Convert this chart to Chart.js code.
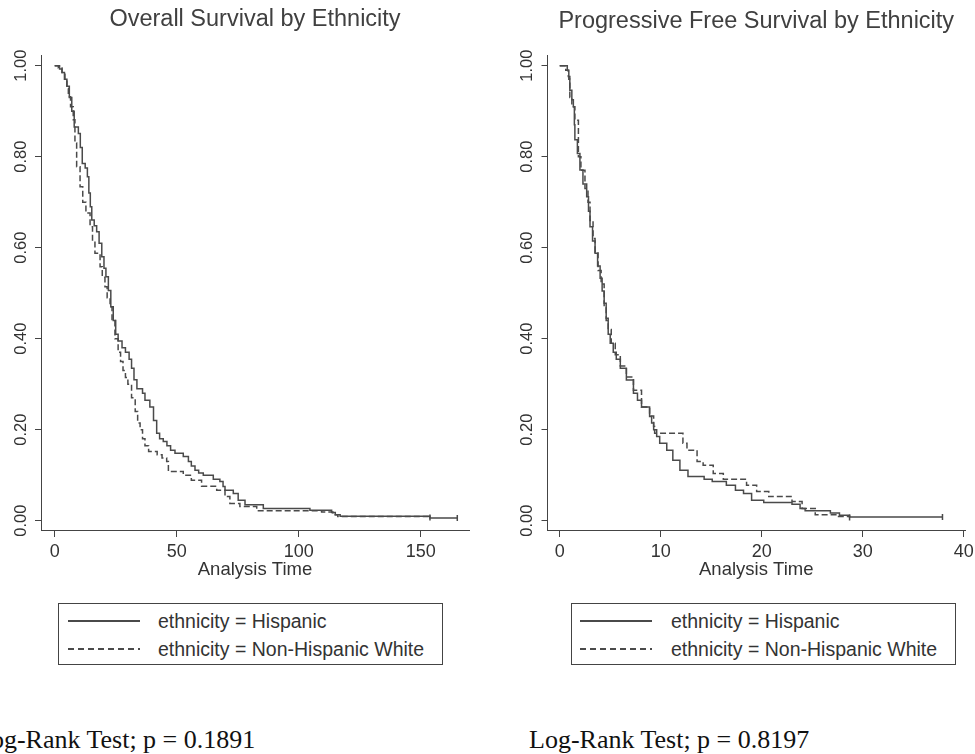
<!DOCTYPE html>
<html>
<head>
<meta charset="utf-8">
<script src="https://cdn.jsdelivr.net/npm/chart.js@4.4.1/dist/chart.umd.min.js"></script>
<style>
    html, body { margin: 0; padding: 0; overflow: hidden; background: #fff; }
    #page { position: relative; width: 975px; height: 754px; overflow: hidden; }
    canvas { position: absolute; top: 0; }
    .legend {
        position: absolute; top: 603px; width: 383px; height: 60px;
        border: 1px solid #444; font-family: "Liberation Sans", Arial, sans-serif;
        font-size: 19.5px; color: #333;
    }
    .legend .row { position: absolute; left: 0; right: 0; height: 24px; }
    .legend .sample { position: absolute; width: 72px; height: 1.5px; top: 11px; }
    .legend .solid { background: #4a4a4a; }
    .legend .dashed { background: repeating-linear-gradient(to right, #4a4a4a 0 6px, transparent 6px 10px); }
    .legend .text { position: absolute; left: 99px; top: 0; line-height: 24px; white-space: nowrap; }
    .logrank {
        position: absolute; top: 727px; font-family: "Liberation Serif", "Times New Roman", serif;
        font-size: 26px; line-height: 1; color: #111; white-space: nowrap;
    }
</style>
</head>
<body>
<div id="page">
    <canvas id="osChart" width="505" height="590" style="left:0"></canvas>
    <canvas id="pfsChart" width="512" height="590" style="left:506px"></canvas>

    <div class="legend" style="left:58px">
        <div class="row" style="top:5px"><div class="sample solid" style="left:9px"></div><div class="text" id="osLeg1"></div></div>
        <div class="row" style="top:33px"><div class="sample dashed" style="left:9px"></div><div class="text" id="osLeg2"></div></div>
    </div>
    <div class="legend" style="left:571px">
        <div class="row" style="top:5px"><div class="sample solid" style="left:8px"></div><div class="text" id="pfsLeg1"></div></div>
        <div class="row" style="top:33px"><div class="sample dashed" style="left:8px"></div><div class="text" id="pfsLeg2"></div></div>
    </div>

    <div class="logrank" style="left:-25px" id="osTest"></div>
    <div class="logrank" style="left:529px" id="pfsTest"></div>
</div>

<script>
// --- data (time, survival after the step) ---
const groupLabels = ['ethnicity = Hispanic', 'ethnicity = Non-Hispanic White'];
const yTicks = [0, 0.2, 0.4, 0.6, 0.8, 1.0];
const osXTicks = [0, 50, 100, 150];
const pfsXTicks = [0, 10, 20, 30, 40];
const osTitle = 'Overall Survival by Ethnicity';
const pfsTitle = 'Progressive Free Survival by Ethnicity';
const xTitle = 'Analysis Time';
const osPValue = '0.1891';
const pfsPValue = '0.8197';

const osHispTime = [0, 2, 3, 4, 5, 6, 7, 8, 9.7, 10.5, 11.3, 12.5, 13.4, 14, 14.6, 15.2, 16.2, 17.2, 18.2, 19.3,
    20.2, 21, 22, 23, 24, 25, 26, 27.6, 29, 30.5, 31.5, 32.5, 33.7, 36, 37, 39, 40.5, 41.8, 43, 44.5,
    46, 47.5, 49.3, 52.7, 54.8, 56, 57.5, 59, 60.9, 65, 67.7, 69, 69.8, 73.2, 75.2, 78, 85.5, 104.6,
    113.5, 115, 117, 153.8, 165];
const osHispSurv = [1, 0.993, 0.985, 0.97, 0.955, 0.93, 0.9, 0.865, 0.851, 0.82, 0.785, 0.775, 0.756, 0.72, 0.69, 0.661, 0.648, 0.635, 0.61, 0.58,
    0.555, 0.536, 0.506, 0.47, 0.44, 0.41, 0.395, 0.38, 0.37, 0.355, 0.335, 0.31, 0.29, 0.28, 0.265, 0.25, 0.22, 0.192, 0.18, 0.174,
    0.165, 0.155, 0.148, 0.141, 0.13, 0.12, 0.111, 0.105, 0.1, 0.091, 0.086, 0.075, 0.067, 0.06, 0.045, 0.035, 0.027, 0.023,
    0.018, 0.013, 0.01, 0.006, 0.006];

const osWhiteTime = [0, 1.5, 3, 4.2, 5, 5.6, 6.5, 7.6, 8.3, 9, 10.4, 11.5, 12.8, 14.5, 15.5, 16.5, 18.6, 19.5, 20.6, 21.5,
    22.7, 23.5, 24.7, 26, 27, 28, 29, 30, 31.5, 33, 34, 35, 36, 37, 38.5, 42, 44, 45.9, 46.6, 52.7,
    56, 60.2, 66.4, 69.8, 71.8, 75.9, 82.8, 109.4, 114, 116, 153.8];
const osWhiteSurv = [1, 0.995, 0.985, 0.969, 0.95, 0.932, 0.91, 0.881, 0.83, 0.778, 0.734, 0.7, 0.676, 0.646, 0.615, 0.588, 0.558, 0.535, 0.514, 0.49,
    0.47, 0.44, 0.4, 0.37, 0.35, 0.33, 0.315, 0.3, 0.27, 0.24, 0.215, 0.2, 0.18, 0.165, 0.152, 0.145, 0.138, 0.13, 0.108, 0.1,
    0.089, 0.076, 0.067, 0.053, 0.038, 0.031, 0.022, 0.019, 0.013, 0.009, 0.007];

const pfsHispTime = [0, 0.75, 0.9, 1, 1.2, 1.35, 1.45, 1.5, 1.75, 2, 2.3, 2.67, 2.85, 3, 3.25, 3.5, 3.75, 4, 4.2, 4.4,
    4.6, 4.8, 5, 5.3, 5.6, 6, 6.6, 7.3, 7.7, 8.1, 8.9, 9.1, 9.3, 9.6, 9.9, 10.6, 11.2, 11.9, 12.7, 14.3,
    15.1, 16.5, 17.4, 18.2, 19, 20.2, 23, 23.8, 24.3, 26.8, 27.7, 28.7, 37.9];
const pfsHispSurv = [1, 0.99, 0.97, 0.946, 0.925, 0.91, 0.87, 0.837, 0.807, 0.771, 0.74, 0.712, 0.68, 0.646, 0.615, 0.588, 0.56, 0.533, 0.505, 0.478,
    0.445, 0.41, 0.39, 0.37, 0.355, 0.335, 0.309, 0.28, 0.265, 0.25, 0.229, 0.215, 0.2, 0.185, 0.17, 0.155, 0.133, 0.111, 0.097, 0.091,
    0.086, 0.078, 0.067, 0.06, 0.045, 0.04, 0.036, 0.027, 0.022, 0.017, 0.012, 0.008, 0.008];

const pfsWhiteTime = [0, 0.6, 0.85, 1, 1.2, 1.5, 1.85, 2.1, 2.5, 2.8, 3, 3.3, 3.5, 3.8, 4.1, 4.4, 4.6, 4.8, 5.1, 5.5,
    6, 6.6, 7.3, 8.1, 8.9, 9.3, 9.4, 12.2, 12.6, 13.6, 14.2, 15.2, 16.2, 18.5, 19.5, 20.7, 23, 24, 25.3, 27.5, 28.7];
const pfsWhiteSurv = [1, 0.99, 0.976, 0.93, 0.91, 0.88, 0.8, 0.77, 0.73, 0.7, 0.66, 0.62, 0.59, 0.55, 0.52, 0.47, 0.44, 0.42, 0.39, 0.365,
    0.34, 0.316, 0.287, 0.25, 0.23, 0.207, 0.192, 0.17, 0.155, 0.13, 0.122, 0.104, 0.091, 0.078, 0.064, 0.053, 0.042, 0.027, 0.013, 0.009, 0.007];

const lineColor = '#4a4a4a';
const axisColor = '#444';
const textColor = '#333';
const sansFont = '"Liberation Sans", Arial, sans-serif';
const titleSize = 23.5;

const toPoints = (times, surv) => times.map((t, i) => ({ x: t, y: surv[i] }));

// censor tick on the last point of each curve
const endTick = (ctx) => ctx.dataIndex === ctx.dataset.data.length - 1 ? 3 : 0;

const makeDataset = (label, times, surv, dashed) => ({
    label: label,
    data: toPoints(times, surv),
    stepped: true,
    borderColor: lineColor,
    borderWidth: 1.5,
    borderDash: dashed ? [6, 3] : [],
    pointRadius: endTick,
    pointStyle: 'line',
    rotation: 90,
    pointBorderColor: lineColor,
    pointBorderWidth: 1.5,
    fill: false,
});

const buildChart = (canvasId, cfg) => {
    const ctx = document.getElementById(canvasId).getContext('2d');
    return new Chart(ctx, {
        type: 'line',
        data: {
            datasets: [
                makeDataset(groupLabels[0], cfg.hispTime, cfg.hispSurv, false),
                makeDataset(groupLabels[1], cfg.whiteTime, cfg.whiteSurv, true),
            ]
        },
        options: {
            responsive: false,
            animation: false,
            devicePixelRatio: 1,
            layout: { padding: { left: 0, right: cfg.padRight, top: 0, bottom: 5 } },
            scales: {
                x: {
                    type: 'linear',
                    min: cfg.xMin, max: cfg.xMax,
                    afterBuildTicks: (s) => { s.ticks = cfg.xTicks.map(v => ({ value: v })); },
                    afterFit: (s) => { s.height = 55; },
                    grid: { drawOnChartArea: false, tickLength: 7, color: axisColor, lineWidth: 1 },
                    border: { color: axisColor, width: 1 },
                    ticks: {
                        padding: 4, color: textColor, maxRotation: 0, autoSkip: false,
                        font: { family: sansFont, size: 18 },
                        callback: (v) => String(v)
                    },
                    title: {
                        display: true, text: xTitle, color: textColor,
                        font: { family: sansFont, size: 18.5 },
                        padding: { top: 0, bottom: 4 }
                    }
                },
                y: {
                    min: -0.0204, max: 1.0235,
                    afterBuildTicks: (s) => { s.ticks = yTicks.map(v => ({ value: v })); },
                    afterFit: (s) => { s.width = cfg.yWidth; },
                    grid: { drawOnChartArea: false, tickLength: 6, color: axisColor, lineWidth: 1 },
                    border: { color: axisColor, width: 1 },
                    ticks: {
                        padding: -2.5, color: textColor, minRotation: 90, maxRotation: 90,
                        crossAlign: 'center', autoSkip: false,
                        font: { family: sansFont, size: 16.5 },
                        callback: (v) => v.toFixed(2)
                    }
                }
            },
            plugins: {
                legend: { display: false },
                tooltip: { enabled: false },
                title: {
                    display: true, text: cfg.title, color: '#404040', fullSize: false,
                    font: { family: sansFont, size: titleSize, weight: 'normal' },
                    padding: { top: cfg.titleTop, bottom: 55 - cfg.titleTop - titleSize * 1.2 }
                }
            }
        }
    });
};

buildChart('osChart', {
    title: osTitle, hispTime: osHispTime, hispSurv: osHispSurv, whiteTime: osWhiteTime, whiteSurv: osWhiteSurv,
    xTicks: osXTicks, xMin: -5.61, xMax: 169.8, yWidth: 41, padRight: 36, titleTop: 5
});
buildChart('pfsChart', {
    title: pfsTitle, hispTime: pfsHispTime, hispSurv: pfsHispSurv, whiteTime: pfsWhiteTime, whiteSurv: pfsWhiteSurv,
    xTicks: pfsXTicks, xMin: -1.21, xMax: 40.13, yWidth: 41.5, padRight: 53, titleTop: 7
});

['os', 'pfs'].forEach(k => {
    document.getElementById(k + 'Leg1').textContent = groupLabels[0];
    document.getElementById(k + 'Leg2').textContent = groupLabels[1];
});
document.getElementById('osTest').textContent = `Log-Rank Test; p = ${osPValue}`;
document.getElementById('pfsTest').textContent = `Log-Rank Test; p = ${pfsPValue}`;
</script>
</body>
</html>
